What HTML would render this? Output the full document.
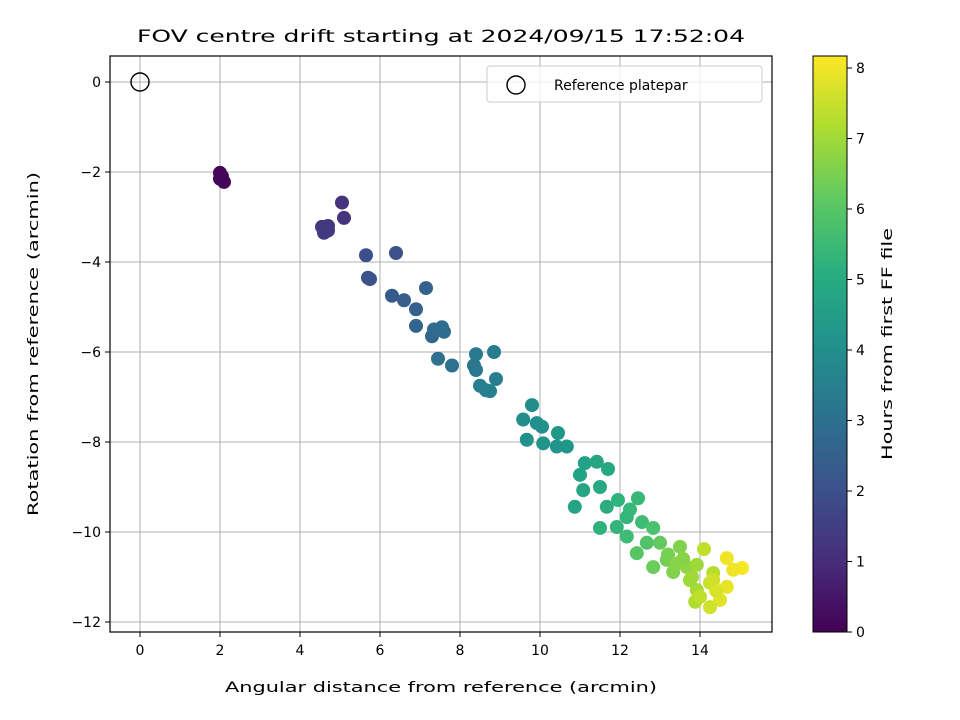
<!DOCTYPE html>
<html><head><meta charset="utf-8"><style>
body{margin:0;background:#fff;}
svg{display:block;font-family:"DejaVu Sans","Liberation Sans",sans-serif;}
</style></head><body>
<svg id="chart" width="960" height="720" xmlns="http://www.w3.org/2000/svg">
<defs>
<linearGradient id="vir" x1="0" y1="1" x2="0" y2="0">
<stop offset="0" stop-color="#440154"/><stop offset="0.125" stop-color="#472d7b"/><stop offset="0.25" stop-color="#3b528b"/><stop offset="0.375" stop-color="#2c728e"/><stop offset="0.5" stop-color="#21918c"/><stop offset="0.625" stop-color="#28ae80"/><stop offset="0.75" stop-color="#5ec962"/><stop offset="0.875" stop-color="#addc30"/><stop offset="1" stop-color="#fde725"/>
</linearGradient>
<clipPath id="clip"><rect x="110" y="56" width="662" height="576"/></clipPath>
</defs>
<g id="grid"></g>
<g id="pts" clip-path="url(#clip)"></g>
<rect x="110" y="56" width="662" height="576" fill="none" stroke="#000" stroke-width="1.2"/>
<g id="ticks"></g>
<text x="441" y="42" font-size="17" text-anchor="middle" textLength="608" lengthAdjust="spacingAndGlyphs">FOV centre drift starting at 2024/09/15 17:52:04</text>
<text x="441" y="692" font-size="14" text-anchor="middle" textLength="432" lengthAdjust="spacingAndGlyphs">Angular distance from reference (arcmin)</text>
<text transform="translate(38,344) rotate(-90)" font-size="14" text-anchor="middle" textLength="344" lengthAdjust="spacingAndGlyphs">Rotation from reference (arcmin)</text>
<g>
<rect x="487" y="66" width="275" height="36" rx="3" fill="#fff" fill-opacity="0.8" stroke="#ccc"/>
<circle cx="516" cy="85" r="9" fill="none" stroke="#000" stroke-width="1.4"/>
<text x="554" y="90" font-size="14">Reference platepar</text>
</g>
<rect x="813" y="56" width="34" height="576" fill="url(#vir)" stroke="#000" stroke-width="1"/>
<g id="cbticks"></g>
<text transform="translate(892,344) rotate(-90)" font-size="14" text-anchor="middle" textLength="232" lengthAdjust="spacingAndGlyphs">Hours from first FF file</text>
</svg>
<script>
const xTicks=[0,2,4,6,8,10,12,14];
const yTicks=[0,-2,-4,-6,-8,-10,-12];
const cTicks=[0,1,2,3,4,5,6,7,8];
const ptX=[2.0,2.0,2.1,2.05,5.05,5.1,4.55,4.7,4.6,4.7,5.65,6.4,5.7,5.75,6.3,6.6,6.9,7.15,6.9,7.3,7.35,7.55,7.6,7.45,7.8,8.35,8.4,8.4,8.85,8.9,8.5,8.65,8.75,9.8,9.92,9.58,9.67,10.08,10.45,10.67,10.42,10.05,11.12,11.42,11.7,11.0,11.5,11.08,10.87,11.95,12.45,12.17,12.55,11.5,11.92,12.83,12.17,12.42,12.67,11.67,12.25,13.0,12.83,13.5,13.17,13.33,13.67,13.58,14.1,14.67,15.05,14.83,13.92,14.33,13.92,14.25,14.67,14.5,14.25,13.88,14.0,14.33,13.75,13.2,13.4,13.8,14.4];
const ptY=[-2.02,-2.15,-2.22,-2.1,-2.68,-3.02,-3.22,-3.2,-3.35,-3.3,-3.85,-3.8,-4.35,-4.38,-4.75,-4.85,-5.05,-4.58,-5.42,-5.65,-5.5,-5.45,-5.55,-6.15,-6.3,-6.3,-6.4,-6.05,-6.0,-6.6,-6.75,-6.85,-6.87,-7.18,-7.58,-7.5,-7.95,-8.03,-7.8,-8.1,-8.1,-7.66,-8.47,-8.44,-8.6,-8.73,-9.0,-9.07,-9.44,-9.29,-9.25,-9.67,-9.78,-9.91,-9.89,-9.91,-10.1,-10.47,-10.24,-9.44,-9.5,-10.24,-10.78,-10.33,-10.62,-10.89,-10.78,-10.6,-10.38,-10.58,-10.8,-10.84,-10.73,-10.91,-11.29,-11.13,-11.22,-11.51,-11.67,-11.55,-11.44,-11.07,-11.07,-10.5,-10.7,-11.0,-11.3];
const ptH=[0.05,0.1,0.15,0.1,1.2,1.25,1.3,1.35,1.4,1.35,2.0,2.05,2.1,2.1,2.3,2.4,2.5,2.5,2.6,2.7,2.8,2.85,2.9,3.0,3.05,3.2,3.25,3.3,3.4,3.5,3.45,3.5,3.55,4.0,4.05,4.0,4.1,4.2,4.3,4.3,4.25,4.1,4.7,4.8,4.85,4.7,4.9,4.8,4.75,5.3,5.5,5.4,5.6,5.2,5.35,5.8,5.6,6.0,5.9,5.1,5.45,6.2,6.3,6.6,6.4,6.6,6.8,6.7,7.4,8.0,8.1,8.0,7.0,7.3,7.1,7.5,7.9,7.8,7.6,7.2,7.4,7.6,7.0,6.5,6.7,7.0,7.7];
const X=v=>140+v*40, Y=v=>82-v*45, C=v=>632-v*70.5;
const NS='http://www.w3.org/2000/svg';
const vir=[[68,1,84],[72,40,120],[62,74,137],[49,104,142],[38,130,142],[31,158,137],[53,183,121],[109,205,89],[180,222,44],[253,231,37]];
function col(h){let t=Math.max(0,Math.min(1,h/8.17))*9,i=Math.min(8,Math.floor(t)),f=t-i,a=vir[i],b=vir[i+1];
return 'rgb('+a.map((c,k)=>Math.round(c+(b[k]-c)*f)).join(',')+')';}
function mk(tag,attrs,parent){const e=document.createElementNS(NS,tag);for(const k in attrs)e.setAttribute(k,attrs[k]);parent.appendChild(e);return e;}
const grid=document.getElementById('grid'),ticks=document.getElementById('ticks'),pts=document.getElementById('pts'),cb=document.getElementById('cbticks');
xTicks.forEach(v=>{
 const g=mk('line',{x1:X(v),x2:X(v),y1:56,y2:632,stroke:'#b0b0b0','stroke-width':1},grid);
 
 
 const t=mk('line',{x1:X(v),x2:X(v),y1:632,y2:637,stroke:'#000'},ticks);
 
 
 const l=mk('text',{x:X(v),y:655,'font-size':14,'text-anchor':'middle'},ticks);l.textContent=v;
 
 
});
yTicks.forEach(v=>{
 const g=mk('line',{x1:110,x2:772,y1:Y(v),y2:Y(v),stroke:'#b0b0b0','stroke-width':1},grid);
 
 
 const t=mk('line',{x1:105,x2:110,y1:Y(v),y2:Y(v),stroke:'#000'},ticks);
 
 
 const l=mk('text',{x:101,y:Y(v)+5,'font-size':14,'text-anchor':'end'},ticks);l.textContent=v<0?'\u2212'+(-v):v;
 
 
});
cTicks.forEach(v=>{
 const t=mk('line',{x1:847,x2:852,y1:C(v),y2:C(v),stroke:'#000'},cb);
 
 
 const l=mk('text',{x:856,y:C(v)+5,'font-size':14},cb);l.textContent=v;
 
 
});
const ref=mk('circle',{cx:X(0),cy:Y(0),r:9,fill:'none',stroke:'#000','stroke-width':1.4},pts);


ptX.forEach((x,i)=>{
 const c=mk('circle',{cx:X(x),cy:Y(ptY[i]),r:7,fill:col(ptH[i])},pts);
 
 
});
</script>
</body></html>
